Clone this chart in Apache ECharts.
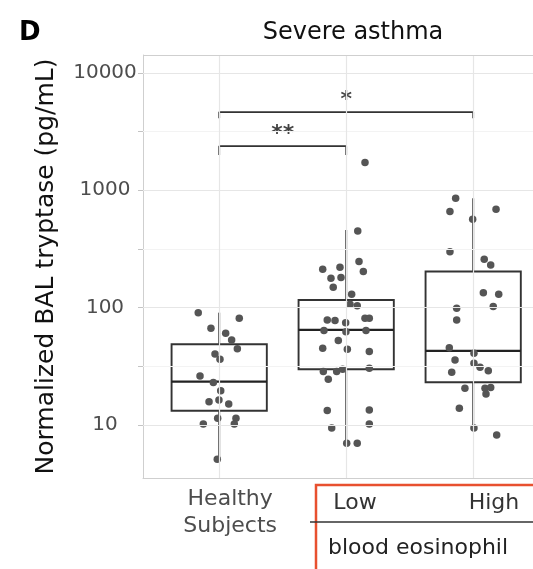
<!DOCTYPE html>
<html><head><meta charset="utf-8">
<script src="https://cdn.jsdelivr.net/npm/echarts@6/dist/echarts.min.js"></script>
<style>html,body{margin:0;padding:0;background:#fff}#c{width:533px;height:569px}</style>
</head><body><div id="c"></div>
<script>
// ---- data ----
const categories = ['Healthy\nSubjects', 'Low', 'High'];
const groupLabel = 'blood eosinophil';
const yTickValues = [10, 100, 1000, 10000];
const yTickLabels = ['10', '100', '1000', '10000'];
const yMinorValues = [31.62, 316.2, 3162];

const healthyVals = [90.6, 81, 66.7, 60.4, 53, 44.7, 40.3, 36.3, 26.2, 23, 19.6, 15.8, 16.3, 15.1, 11.4, 11.4, 10.2, 10.2, 5.1];
const healthyJitter = [-0.165, 0.158, -0.065, 0.051, 0.098, 0.143, -0.033, 0.006, -0.151, -0.046, 0.012, -0.080, -0.002, 0.075, -0.012, 0.132, 0.119, -0.125, -0.015];

const lowVals = [1722, 450, 247, 203, 221, 212, 181, 178, 149, 130, 107, 104, 78.5, 77.5, 74.5, 81, 81, 63.7, 62.4, 63.7, 52.4, 45.1, 44.2, 42.2, 28.5, 28.5, 29.9, 30.4, 24.5, 13.3, 13.4, 10.2, 9.4, 7.0, 7.0];
const lowJitter = [0.148, 0.091, 0.101, 0.135, -0.049, -0.185, -0.041, -0.120, -0.102, 0.043, 0.030, 0.087, -0.149, -0.088, -0.004, 0.148, 0.182, -0.175, -0.002, 0.156, -0.062, -0.185, 0.009, 0.182, -0.180, -0.075, -0.028, 0.182, -0.141, -0.149, 0.182, 0.182, -0.114, 0.004, 0.087];

const highVals = [855, 658, 689, 566, 300, 258, 231, 134, 130, 102, 98.8, 78.6, 45.6, 40.9, 35.8, 33.6, 31.0, 29.0, 28.1, 20.6, 20.6, 20.9, 18.4, 13.9, 9.4, 8.2];
const highJitter = [-0.138, -0.183, 0.180, -0.004, -0.183, 0.087, 0.138, 0.080, 0.201, 0.158, -0.130, -0.130, -0.188, 0.006, -0.143, 0.006, 0.054, 0.119, -0.169, -0.065, 0.093, 0.138, 0.101, -0.109, 0.006, 0.185];

// box stats: [min, Q1, median, Q3, max]
const healthyBox = [5.1, 13.2, 23.4, 48.7, 90.6];
const lowBox = [7.0, 29.8, 64.6, 116, 459];
const highBox = [9.4, 23.1, 42.8, 203, 855];

// significance brackets
const bracketFrom = [1, 1];
const bracketTo = [2, 3];
const bracketLevel = [2377, 4640];
const bracketTip = [1995, 4120];
const bracketText = ['**', '*'];

// ---- build chart ----
const L = v => Math.log10(v);
const FONT = 'DejaVu Sans';
const yMin = 0.548, yMax = 4.153;
const xMin = 0.4, xMax = 3.471;
const chart = echarts.init(document.getElementById('c'), null, {renderer: 'canvas'});

const groups = [
  {vals: healthyVals, jit: healthyJitter, box: healthyBox},
  {vals: lowVals, jit: lowJitter, box: lowBox},
  {vals: highVals, jit: highJitter, box: highBox}
];
const pointData = [];
groups.forEach((g, i) => g.vals.forEach((v, k) => pointData.push([i + 1 + g.jit[k], L(v)])));
const boxData = groups.map((g, i) => [i + 1].concat(g.box.map(L)));

const gridMarks = [];
yTickValues.forEach(v => gridMarks.push({yAxis: L(v), lineStyle: {color: '#e6e6e6', width: 1.2, type: 'solid'}}));
yMinorValues.forEach(v => gridMarks.push({yAxis: L(v), lineStyle: {color: '#f3f3f3', width: 1, type: 'solid'}}));
categories.forEach((c, i) => gridMarks.push({xAxis: i + 1, lineStyle: {color: '#e6e6e6', width: 1.2, type: 'solid'}}));
gridMarks.push({yAxis: yMax, lineStyle: {color: '#cfcfcf', width: 1, type: 'solid'}});

const series = [];
series.push({
  type: 'scatter', data: [], z: 1, silent: true,
  markLine: {silent: true, symbol: 'none', label: {show: false}, animation: false, data: gridMarks}
});
series.push({
  type: 'custom', z: 2, data: boxData, encode: {x: 0, y: [1, 2, 3, 4, 5]}, silent: true,
  renderItem: function (params, api) {
    const x = api.value(0);
    const w = api.size([0.75, 0])[0];
    const pMin = api.coord([x, api.value(1)]);
    const pQ1 = api.coord([x, api.value(2)]);
    const pMd = api.coord([x, api.value(3)]);
    const pQ3 = api.coord([x, api.value(4)]);
    const pMax = api.coord([x, api.value(5)]);
    const st = {stroke: '#333', lineWidth: 1.9, fill: null};
    return {type: 'group', children: [
      {type: 'line', shape: {x1: pMax[0], y1: pMax[1], x2: pQ3[0], y2: pQ3[1]}, style: st},
      {type: 'line', shape: {x1: pQ1[0], y1: pQ1[1], x2: pMin[0], y2: pMin[1]}, style: st},
      {type: 'rect', shape: {x: pQ3[0] - w / 2, y: pQ3[1], width: w, height: pQ1[1] - pQ3[1]}, style: {stroke: '#333', lineWidth: 1.9, fill: 'rgba(255,255,255,0)'}},
      {type: 'line', shape: {x1: pMd[0] - w / 2, y1: pMd[1], x2: pMd[0] + w / 2, y2: pMd[1]}, style: {stroke: '#222', lineWidth: 2.4}}
    ]};
  }
});
series.push({
  type: 'scatter', z: 3, data: pointData, symbolSize: 7.5, silent: true,
  itemStyle: {color: '#555555', opacity: 1}
});
bracketFrom.forEach((a, i) => {
  const b = bracketTo[i];
  series.push({
    type: 'line', z: 4, silent: true, symbol: 'none',
    lineStyle: {color: '#333', width: 1.8},
    data: [[a, L(bracketTip[i])], [a, L(bracketLevel[i])], [b, L(bracketLevel[i])], [b, L(bracketTip[i])]]
  });
  series.push({
    type: 'scatter', z: 4, silent: true, symbolSize: 0,
    data: [[(a + b) / 2, L(bracketLevel[i])]],
    label: {show: true, formatter: bracketText[i], position: 'top', distance: 1,
      fontSize: 22, fontWeight: 'bold', fontFamily: FONT, color: '#111'}
  });
});

const option = {
  animation: false,
  backgroundColor: '#ffffff',
  grid: {left: 143, top: 55, right: 0, bottom: 91, show: false},
  xAxis: {
    type: 'value', min: xMin, max: xMax, splitNumber: 3,
    axisLine: {show: true, lineStyle: {color: '#cfcfcf', width: 1}}, axisTick: {show: false}, splitLine: {show: false},
    axisLabel: {
      formatter: v => Math.abs(v - 1) < 1e-9 ? categories[0] : '',
      fontSize: 22, fontFamily: FONT, color: '#4d4d4d', lineHeight: 27,
      margin: 8, align: 'center', padding: [0, 0, 0, 22],
      showMinLabel: false, showMaxLabel: false
    }
  },
  yAxis: {
    type: 'value', min: yMin, max: yMax, splitNumber: 7,
    axisLine: {show: true, lineStyle: {color: '#cfcfcf', width: 1}},
    axisTick: {show: true, length: 5, lineStyle: {color: '#c4c4c4'}},
    splitLine: {show: false},
    axisLabel: {
      formatter: v => {
        const i = yTickValues.findIndex(t => Math.abs(L(t) - v) < 1e-6);
        return i >= 0 ? yTickLabels[i] : '';
      },
      fontSize: 20, fontFamily: FONT, color: '#4d4d4d', align: 'center', margin: 38,
      showMinLabel: false, showMaxLabel: false
    },
    name: 'Normalized BAL tryptase (pg/mL)', nameLocation: 'middle', nameGap: 84,
    nameTextStyle: {fontSize: 25, fontFamily: FONT, color: '#111'}
  },
  graphic: [
    {type: 'text', left: 19, top: 20, style: {text: 'D', font: 'bold 26px "DejaVu Sans"', fill: '#000'}},
    {type: 'text', x: 353, y: 33, style: {text: 'Severe asthma', font: '24px "DejaVu Sans"', fill: '#111', align: 'center', verticalAlign: 'middle'}},
    {type: 'rect', shape: {x: 316, y: 485, width: 240, height: 110}, style: {fill: 'none', stroke: '#e8502f', lineWidth: 2.5}},
    {type: 'line', shape: {x1: 310, y1: 522, x2: 540, y2: 522}, style: {stroke: '#333', lineWidth: 1.6}},
    {type: 'text', x: 355, y: 503, style: {text: categories[1], font: '22px "DejaVu Sans"', fill: '#333', align: 'center', verticalAlign: 'middle'}},
    {type: 'text', x: 494, y: 503, style: {text: categories[2], font: '22px "DejaVu Sans"', fill: '#333', align: 'center', verticalAlign: 'middle'}},
    {type: 'text', x: 328, y: 548, style: {text: groupLabel, font: '22px "DejaVu Sans"', fill: '#222', align: 'left', verticalAlign: 'middle'}}
  ],
  series: series
};
chart.setOption(option);
</script>
</body></html>
